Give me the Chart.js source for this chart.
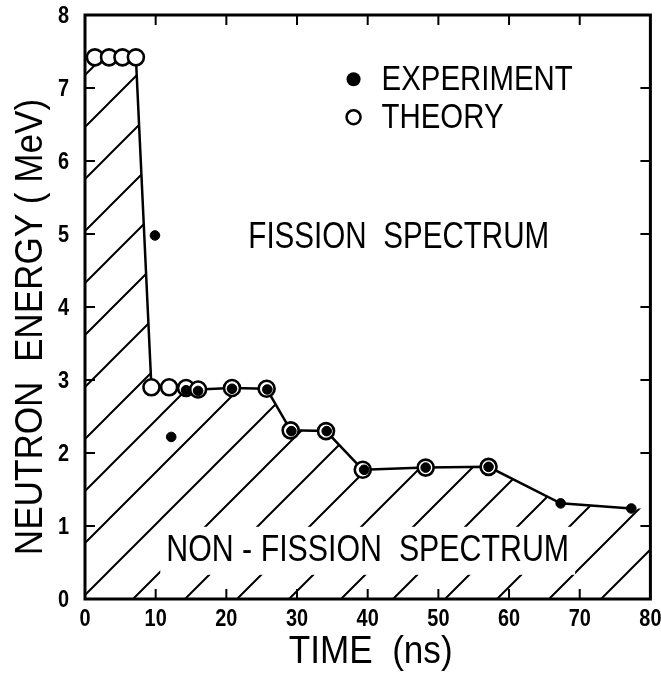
<!DOCTYPE html>
<html>
<head>
<meta charset="utf-8">
<script src="https://cdn.jsdelivr.net/npm/chart.js@4/dist/chart.umd.min.js"></script>
<style>
  html, body { margin: 0; padding: 0; background: #fff; }
  #wrap { width: 661px; height: 674px; }
</style>
</head>
<body>
<div id="wrap"><canvas id="c" width="661" height="674"></canvas></div>
<script>
// Neutron energy vs time of flight
const theoryTime   = [1.4, 3.4, 5.3, 7.2, 9.4, 11.9, 14.3, 16.0, 20.8, 25.7, 29.1, 34.1, 39.3, 48.2, 57.1];
const theoryEnergy = [7.42, 7.42, 7.42, 7.42, 2.90, 2.90, 2.89, 2.87, 2.89, 2.88, 2.31, 2.30, 1.77, 1.80, 1.81];
const expTime      = [9.9, 12.2, 14.3, 16.0, 20.8, 25.8, 29.2, 34.2, 39.5, 48.2, 57.1, 67.3, 77.3];
const expEnergy    = [4.98, 2.22, 2.86, 2.85, 2.88, 2.87, 2.30, 2.30, 1.77, 1.80, 1.81, 1.31, 1.24];
const xTicks = [0, 10, 20, 30, 40, 50, 60, 70, 80];
const yTicks = [0, 1, 2, 3, 4, 5, 6, 7, 8];

const FONT = "'Liberation Sans', Arial, sans-serif";

const theoryPts = theoryTime.map((t, i) => ({ x: t, y: theoryEnergy[i] }));
const expPts = expTime.map((t, i) => ({ x: t, y: expEnergy[i] }));

// boundary between the two regions: theory curve, then measured tail
const lastTheory = theoryTime[theoryTime.length - 1];
const curvePts = theoryPts.concat(expPts.filter(p => p.x > lastTheory));
const xMin = xTicks[0], xMax = xTicks[xTicks.length - 1];
const regionPts = [{ x: xMin, y: curvePts[0].y }]
  .concat(curvePts)
  .concat([{ x: xMax, y: curvePts[curvePts.length - 1].y }]);

function hatchPattern(step, width) {
  const c = document.createElement('canvas');
  c.width = c.height = step;
  const g = c.getContext('2d');
  g.strokeStyle = '#000';
  g.lineWidth = width;
  g.beginPath();
  g.moveTo(0, step); g.lineTo(step, 0);
  g.moveTo(-step / 2, step / 2); g.lineTo(step / 2, -step / 2);
  g.moveTo(step / 2, step * 1.5); g.lineTo(step * 1.5, step / 2);
  g.stroke();
  const p = g.createPattern(c, 'repeat');
  p.setTransform(new DOMMatrix().translate(4, 0));
  return p;
}

// narrow lettering: regular face squeezed horizontally
function narrowText(ctx, text, x, y, font, squeeze, angle) {
  ctx.save();
  ctx.translate(x, y);
  if (angle) ctx.rotate(angle);
  ctx.scale(squeeze, 1);
  ctx.font = font;
  ctx.fillText(text, 0, 0);
  ctx.restore();
}

const frame = {
  id: 'frame',
  afterDatasetsDraw(chart) {
    const { ctx, chartArea: a, scales: { x, y } } = chart;
    ctx.save();
    ctx.fillStyle = '#000';
    ctx.textBaseline = 'middle';
    ctx.textAlign = 'center';

    // lower-region caption on a cleared band
    const label = 'NON - FISSION  SPECTRUM';
    const lx = x.getPixelForValue(40.0), ly = y.getPixelForValue(0.66);
    ctx.font = `37px ${FONT}`;
    const w = ctx.measureText(label).width * 0.82;
    ctx.fillStyle = '#fff';
    ctx.fillRect(lx - w / 2 - 6, ly - 24, w + 12, 48);
    ctx.fillStyle = '#000';
    narrowText(ctx, label, lx, ly, `37px ${FONT}`, 0.82);

    narrowText(ctx, 'FISSION  SPECTRUM', x.getPixelForValue(44.4), y.getPixelForValue(4.95), `37px ${FONT}`, 0.8);

    // legend
    ctx.textAlign = 'left';
    const mx = x.getPixelForValue(38.0);
    const r1 = y.getPixelForValue(7.12), r2 = y.getPixelForValue(6.6);
    ctx.beginPath(); ctx.arc(mx, r1, 7, 0, Math.PI * 2); ctx.fill();
    ctx.lineWidth = 2.5;
    ctx.strokeStyle = '#000';
    ctx.beginPath(); ctx.arc(mx, r2, 7, 0, Math.PI * 2); ctx.stroke();
    narrowText(ctx, 'EXPERIMENT', mx + 28, r1 + 1, `35px ${FONT}`, 0.84);
    narrowText(ctx, 'THEORY', mx + 28, r2 + 1, `35px ${FONT}`, 0.84);

    // plot frame with inward ticks
    ctx.lineWidth = 3;
    ctx.strokeRect(a.left, a.top, a.right - a.left, a.bottom - a.top);
    ctx.lineWidth = 2;
    ctx.beginPath();
    xTicks.slice(1, -1).forEach(v => {
      const px = x.getPixelForValue(v);
      ctx.moveTo(px, a.bottom); ctx.lineTo(px, a.bottom - 10);
      ctx.moveTo(px, a.top); ctx.lineTo(px, a.top + 10);
    });
    yTicks.slice(1, -1).forEach(v => {
      const py = y.getPixelForValue(v);
      ctx.moveTo(a.left, py); ctx.lineTo(a.left + 10, py);
      ctx.moveTo(a.right, py); ctx.lineTo(a.right - 10, py);
    });
    ctx.stroke();

    // tick labels in narrow bold digits
    const tickFont = `bold 24px ${FONT}`;
    ctx.textAlign = 'center';
    xTicks.forEach(v => narrowText(ctx, String(v), x.getPixelForValue(v), a.bottom + 20, tickFont, 0.83));
    ctx.textAlign = 'right';
    yTicks.forEach(v => narrowText(ctx, String(v), a.left - 16, y.getPixelForValue(v) + 1, tickFont, 0.83));

    // axis titles
    ctx.textAlign = 'center';
    narrowText(ctx, 'NEUTRON  ENERGY ( MeV)', 31, 327, `39px ${FONT}`, 0.9, -Math.PI / 2);
    narrowText(ctx, 'TIME  (ns)', (a.left + a.right) / 2 + 3, 652, `39px ${FONT}`, 0.9);
    ctx.restore();
  }
};

new Chart(document.getElementById('c'), {
  type: 'scatter',
  data: {
    datasets: [
      {
        label: 'EXPERIMENT',
        data: expPts,
        pointRadius: 4.8,
        pointBackgroundColor: '#000',
        pointBorderColor: '#000',
        pointBorderWidth: 1,
        showLine: false,
        order: 1
      },
      {
        label: 'THEORY',
        data: theoryPts,
        pointRadius: 8,
        pointBackgroundColor: '#fff',
        pointBorderColor: '#000',
        pointBorderWidth: 2.6,
        showLine: false,
        order: 2
      },
      {
        label: 'boundary',
        data: curvePts,
        showLine: true,
        pointRadius: 0,
        borderColor: '#000',
        borderWidth: 2.5,
        fill: false,
        tension: 0,
        order: 3
      },
      {
        label: 'non-fission region',
        data: regionPts,
        showLine: true,
        pointRadius: 0,
        borderWidth: 0,
        borderColor: 'rgba(0,0,0,0)',
        backgroundColor: hatchPattern(52, 2),
        fill: 'origin',
        tension: 0,
        order: 4
      }
    ]
  },
  options: {
    responsive: false,
    animation: false,
    devicePixelRatio: 1,
    layout: { padding: { top: 15, right: 10, left: 0, bottom: 0 } },
    plugins: { legend: { display: false }, tooltip: { enabled: false } },
    scales: {
      x: {
        type: 'linear', min: xMin, max: xMax,
        afterBuildTicks: s => { s.ticks = xTicks.map(v => ({ value: v })); },
        afterFit: s => { s.height = 75; s.paddingLeft = 0; s.paddingRight = 0; },
        grid: { display: false, drawTicks: false },
        border: { display: false },
        ticks: { display: false },
        title: { display: false }
      },
      y: {
        type: 'linear', min: 0, max: 8,
        afterBuildTicks: s => { s.ticks = yTicks.map(v => ({ value: v })); },
        afterFit: s => { s.width = 85; s.paddingTop = 0; s.paddingBottom = 0; },
        grid: { display: false, drawTicks: false },
        border: { display: false },
        ticks: { display: false },
        title: { display: false }
      }
    }
  },
  plugins: [frame]
});
</script>
</body>
</html>
